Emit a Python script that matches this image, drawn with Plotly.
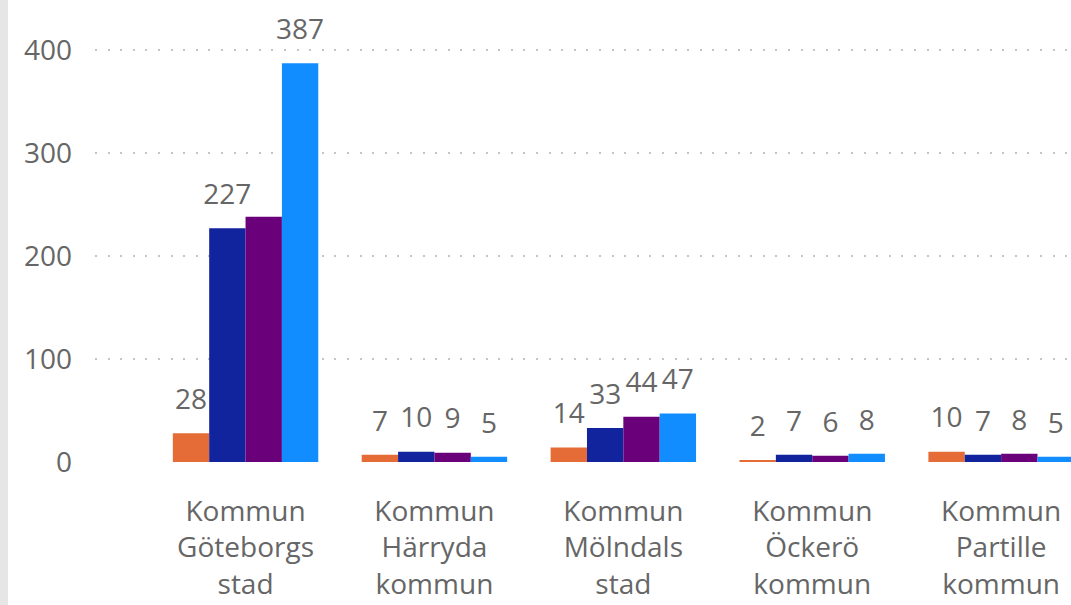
import plotly.graph_objects as go

categories = ["Kommun<br>Göteborgs<br>stad", "Kommun<br>Härryda<br>kommun", "Kommun<br>Mölndals<br>stad",
              "Kommun<br>Öckerö<br>kommun", "Kommun<br>Partille<br>kommun"]
series_names = ["Serie 1", "Serie 2", "Serie 3", "Serie 4"]
serie1 = [28, 7, 14, 2, 10]
serie2 = [227, 10, 33, 7, 7]
serie3 = [238, 9, 44, 6, 8]
serie4 = [387, 5, 47, 8, 5]
# data labels hidden in the reference (overlapping label suppressed)
hidden_labels = {(2, 0)}
colors = ["#E66C37", "#12239E", "#6B007B", "#118DFF"]
y_ticks = [0, 100, 200, 300, 400]

FONT = "Open Sans"
TEXT_COLOR = "#666666"

fig = go.Figure()
all_series = [serie1, serie2, serie3, serie4]
for s, (name, vals, col) in enumerate(zip(series_names, all_series, colors)):
    fig.add_trace(go.Bar(x=categories, y=vals, name=name, marker=dict(color=col, line=dict(width=0)),
                         hoverinfo="x+y"))
for s, (name, vals) in enumerate(zip(series_names, all_series)):
    texts = ["" if (s, i) in hidden_labels else str(v) for i, v in enumerate(vals)]
    fig.add_trace(go.Scatter(x=categories, y=vals, mode="markers+text", text=texts,
                             textposition="top center",
                             textfont=dict(family=FONT, size=28, color=TEXT_COLOR),
                             marker=dict(size=26, opacity=0), cliponaxis=False,
                             hoverinfo="skip", showlegend=False))

fig.update_layout(
    width=1071, height=605,
    margin=dict(l=95, r=0, t=0, b=143),
    barmode="group", bargap=0.23, bargroupgap=0,
    scattermode="group", scattergap=0.23,
    showlegend=False,
    plot_bgcolor="white", paper_bgcolor="white",
    font=dict(family=FONT, size=28, color=TEXT_COLOR),
    xaxis=dict(range=[-0.797, 4.37], showgrid=False, zeroline=False, showline=False,
               ticks="", ticklabelstandoff=30,
               tickfont=dict(family=FONT, size=28, color=TEXT_COLOR)),
    yaxis=dict(range=[0, 448.5], tickvals=y_ticks, showgrid=True, gridcolor="#c4c4c4",
               gridwidth=1.5, griddash="2px,10.6px", zeroline=False, showline=False,
               ticks="", ticklabelstandoff=22,
               tickfont=dict(family=FONT, size=28, color=TEXT_COLOR)),
    shapes=[dict(type="rect", xref="paper", yref="paper", x0=-95/976, x1=-87/976,
                 y0=-143/462, y1=1, fillcolor="#e6e6e6", line=dict(width=0), layer="below")],
)

fig.write_html("out.html", config={"displayModeBar": False},
               post_script="document.body.style.margin='0px';document.body.style.overflow='hidden';")
